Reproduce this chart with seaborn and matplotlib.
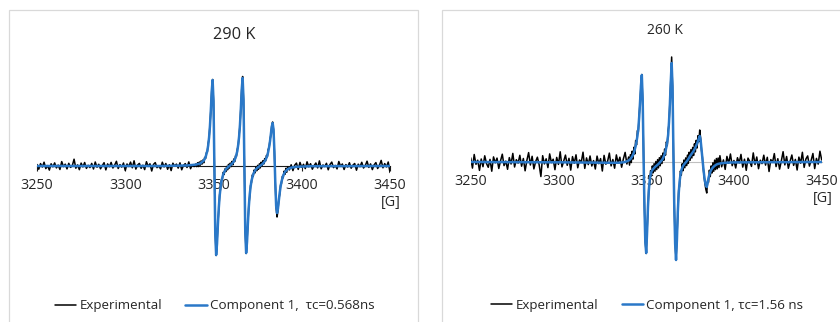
import numpy as np
import matplotlib
matplotlib.use("Agg")
import matplotlib.pyplot as plt
from matplotlib.patches import Rectangle
import seaborn as sns

# ---------------------------------------------------------------- data
# Magnetic field sweep (G): 1 G steps on the baseline, 0.5 G steps across the lines
field = np.concatenate([
    np.arange(3250, 3340.5, 1.0),
    np.arange(3340.5, 3392.25, 0.5),
    np.arange(3393, 3450.5, 1.0),
])

# Experimental spectrum, 290 K (arbitrary units)
exp_290 = [
    # 3250 - 3340
    1.5, -3.2, 2.4, -1.0, 3.8, -2.6, 0.4, -4.1, 2.2, -0.8,
    3.1, -1.9, 0.9, -3.5, 4.4, -0.6, 1.8, -2.9, 2.7, -1.4,
    0.3, 6.8, -2.2, 1.1, -3.7, 2.9, -0.9, 3.5, -2.4, 0.7,
    -1.6, 2.6, -3.0, 4.0, -1.2, 1.7, -2.8, 0.5, 3.3, -3.9,
    2.1, -0.7, 3.6, -2.0, 0.9, 4.7, -2.5, 1.4, -1.1, 3.0,
    -4.4, 2.0, -0.5, 3.9, -1.8, 5.2, -3.1, 1.0, 2.6, -2.3,
    0.8, -3.6, 4.3, -0.4, 2.2, -5.0, 1.6, 3.4, -1.7, 0.2,
    -2.9, 3.8, -0.9, 2.5, -3.3, 1.3, -4.6, 2.8, -0.2, 1.9,
    -2.1, 3.2, -3.8, 0.6, 2.4, -1.5, 4.1, -2.7, 1.2, -0.6,
    2.0,
    # 3340.5 - 3392
    -0.6, 3.3, -0.5, 4.0, 0.8, 5.1, 1.9, 6.0, 3.2, 8.6, 7.5, 13.4, 14.0, 22.5, 28.0, 41.0, 56.0, 75.0, 86.5,
    65, 0.5, -67, -89.5, -77, -58, -42.5, -28.4, -23.0, -13.8, -13.2, -6.4, -8.5, -2.9, -5.6, -0.4, -3.8, 1.6, -2.1, 2.9,
    -0.6, 4.6, 1.2, 7.0, 4.4, 10.3, 9.7, 16.8, 20.4, 30.5, 40.6, 58, 76.8, 89.5, 66, -0.5, -66, -87.5, -75, -57.5,
    -39.6, -30.8, -19.4, -16.7, -9.0, -10.4, -4.1, -6.9, -1.2, -4.8, 0.6, -3.3, 2.2, -1.9, 3.8, 0.2, 5.3, 2.0, 7.4, 4.9,
    10.6, 9.2, 16.8, 18.0, 26.2, 31.0, 40.0, 44.0, 36, 14, -17, -42, -51, -45, -33.5, -28.6, -18.9, -17.6, -10.5, -11.8,
    -5.2, -8.3, -2.4, -6.3, -0.9,
    # 3393 - 3450
    -3.9, 1.2, -4.6, 0.8, 2.9, -3.4, 3.6, -1.3, 1.7, -2.6,
    4.2, -0.8, 2.3, -3.2, 0.4, 3.0, -1.9, 5.1, -2.8, 1.0,
    -0.5, 2.7, -3.8, 1.5, 3.9, -1.6, 0.6, -2.9, 4.5, -0.3,
    2.0, -3.5, 1.4, -1.0, 3.3, -2.2, 0.9, 2.5, -4.2, 1.8,
    -0.7, 3.7, -2.0, 0.5, 4.8, -1.4, 2.1, -3.6, 1.1, 3.4,
    -2.5, 0.7, 5.6, -1.8, 2.4, -0.9, 4.0, -6.5,
]

# Experimental spectrum, 260 K (arbitrary units)
exp_260 = [
    # 3250 - 3340
    4.2, -6.1, 7.5, -2.3, 1.8, -8.4, 3.0, -4.7, 6.2, -1.5,
    -5.3, 2.6, -9.2, 5.1, -0.8, 3.9, -6.5, 1.2, 7.8, -3.6,
    0.9, -7.3, 4.4, -2.0, 8.6, -5.0, 2.3, -1.1, 6.7, -4.2,
    3.5, -8.8, 1.6, 9.4, -3.0, 5.7, -6.9, 0.4, 4.8, -2.7,
    -14.5, 6.3, -1.9, 3.2, -5.6, 8.1, -0.6, 2.8, -7.7, 4.6,
    -2.4, 10.2, -4.9, 1.0, 6.9, -3.3, 3.7, -8.1, 5.4, -1.2,
    7.2, -5.8, 2.0, -0.3, 9.8, -6.4, 4.1, -2.6, 6.0, -4.0,
    1.4, -7.0, 5.9, -1.7, 3.4, -9.0, 6.6, -2.2, 0.7, 8.9,
    -3.9, 2.5, -6.2, 7.1, -1.0, 4.8, -5.2, 3.1, 9.6, -2.0,
    5.0,
    # 3340.5 - 3392
    -3.1, 7.4, -0.6, 10.8, 2.9, 14.7, 8.0, 21.5, 17.2, 31.4, 30.0, 47, 60, 76, 87.5, 61, 6, -44, -80,
    -91.5, -69, -47, -25, -22.5, -8.6, -14.0, -3.9, -10.8, -1.7, -9.2, 0.5, -7.6, 2.4, -5.9, 4.3, -3.8, 6.2, -1.5, 8.9,
    1.6, 13.0, 6.8, 20.1, 16.3, 31.5, 38, 59, 82, 105, 76, 11, -44, -81, -98, -76, -54, -28, -24.5, -9.0,
    -13.2, -1.8, -8.7, 2.0, -5.8, 4.1, -3.6, 6.9, -1.4, 9.8, 1.7, 12.4, 4.0, 14.6, 6.5, 18.2, 10.1, 21.7, 14.0, 26.3,
    20.2, 32, 24, 12, 5, -6, -15, -22, -27.5, -31, -19, -20.4, -8.2, -14.6, -3.9, -11.0, -0.8, -9.3, 1.9, -7.6,
    3.5, -6.8, 4.0, -5.5, 6.3,
    # 3393 - 3450
    -4.8, 2.1, -7.4, 5.6, -1.3, 8.0, -3.7, 1.5, -6.0, 4.3,
    -0.9, 7.6, -5.1, 2.8, -8.3, 3.9, 0.6, -4.4, 9.1, -2.5,
    5.0, -6.7, 1.8, -1.6, 6.8, -3.1, 4.7, -9.5, 2.4, -0.2,
    8.4, -4.6, 3.3, -7.1, 1.1, 10.3, -2.9, 5.5, -6.3, 0.8,
    7.0, -3.4, 2.6, -8.0, 4.9, -1.2, 9.7, -5.4, 3.0, 6.1,
    -4.1, 1.7, 8.5, -6.6, 3.6, -2.1, 10.8, 2.0,
]

# Simulated component, 290 K
fit_field_290 = [
    3250, 3320, 3335, 3340, 3342.5, 3344.5, 3345.5, 3346.5, 3347, 3347.5,
    3348, 3348.5, 3349, 3349.5, 3350, 3350.5, 3351, 3351.5, 3352, 3352.5,
    3353, 3353.5, 3354, 3354.5, 3355.5, 3356.5, 3357.5, 3358.5, 3359.5, 3360.5,
    3361.5, 3362.5, 3363.5, 3364, 3364.5, 3365, 3365.5, 3366, 3366.5, 3367,
    3367.5, 3368, 3368.5, 3369, 3369.5, 3370, 3370.5, 3371, 3371.5, 3372.5,
    3373.5, 3374.5, 3375.5, 3376.5, 3377.5, 3378.5, 3379.5, 3380.5, 3381, 3381.5,
    3382, 3382.5, 3383, 3383.5, 3384, 3384.5, 3385, 3385.5, 3386, 3386.5,
    3387, 3387.5, 3388, 3388.5, 3389.5, 3390.5, 3392, 3394, 3397, 3405,
    3450,
]
fit_290 = [
    0, 0, 0.5, 1.4, 2.5, 5.4, 8.8, 15.2, 20.7, 28.6,
    40.2, 56.2, 74.9, 86, 65.1, 0, -67.4, -89, -77.5, -58.1,
    -41.7, -29.6, -21.5, -15.2, -8.3, -4.6, -2.3, -0.7, 0.7, 2.3,
    4.5, 8.2, 15.0, 21.2, 29.3, 41.2, 57.5, 76.6, 88, 66.6,
    0, -65.9, -87, -75.8, -56.8, -40.7, -29, -21, -14.9, -8.2,
    -4.6, -2.4, -1.0, 0.4, 1.6, 3.4, 6.1, 10.4, 14.3, 18.9,
    24.5, 31.8, 39.2, 43, 36.6, 14.9, -16.3, -40.0, -47, -42.8,
    -34.7, -26.9, -20.7, -15.7, -9.4, -5.9, -3.2, -1.6, -0.8, -0.2,
    0,
]

# Simulated component, 260 K
fit_field_260 = np.concatenate([
    [3250, 3300, 3320, 3330, 3335, 3338, 3339],
    np.arange(3340, 3392.25, 0.5),
    [3395, 3400, 3420, 3450],
])
fit_260 = [
    0, -0.3, -0.6, -0.8, -0.7, 0, 0.7,
    1.5, 2.2, 3.0, 4.2, 5.5, 7.3, 9.5, 12.5, 16, 20.5,
    26, 33, 45, 60, 76, 87, 62, 5, -45, -80,
    -91, -70, -45, -28, -18, -12.5, -9.5, -8, -7, -6,
    -5, -4.2, -3.5, -2.7, -2, -1, 0, 1, 2, 3.5,
    5.5, 8, 11, 15, 20, 27, 40, 58, 80, 99,
    75, 10, -45, -82, -98, -78, -50, -32, -20, -13,
    -8.5, -6, -4, -2.7, -1.5, -0.5, 0.5, 1.7, 3, 4.5,
    6, 7.2, 8.5, 9.7, 11, 12.7, 14.5, 16.5, 18.5, 21,
    23.5, 26, 22, 13, 4, -5, -13, -19.5, -23.5, -25,
    -21, -16, -12.5, -10, -8, -6.7, -5.5, -4.6, -3.8, -3.2,
    -2.6, -2.2, -1.9, -1.7, -1.5,
    -0.8, -0.4, -0.2, 0,
]

field_ticks = [3250, 3300, 3350, 3400, 3450]
titles = ["290 K", "260 K"]
labels_290 = ["Experimental", "Component 1,  \u03c4c=0.568ns"]
labels_260 = ["Experimental", "Component 1, \u03c4c=1.56 ns"]

# ---------------------------------------------------------------- style
sns.set_theme(style="white")
plt.rcParams["font.family"] = ["Open Sans", "DejaVu Sans"]

W, H = 840, 322
BLUE = "#2A78C8"
TEXT = "#262626"

fig = plt.figure(figsize=(W / 100, H / 100), dpi=100)

# chart-area frames
fig.add_artist(Rectangle((8.5 / W, -0.05), (417.5 - 8.5) / W, 1.05 - 9.5 / H,
                         transform=fig.transFigure, fill=False,
                         edgecolor="#d9d9d9", lw=0.9))
fig.add_artist(Rectangle((441.5 / W, -0.05), 0.5, 1.05 - 9.5 / H,
                         transform=fig.transFigure, fill=False,
                         edgecolor="#d9d9d9", lw=0.9))

ax1 = fig.add_axes([37 / W, 47 / H, 353 / W, 225 / H])
ax2 = fig.add_axes([470.7 / W, 47 / H, 351 / W, 230 / H])


def draw_panel(ax, exp, fx, fy, labels, axis_color, ylim, tick_len, pad):
    sns.lineplot(x=field, y=exp, ax=ax, color="black", lw=1.1,
                 label=labels[0], sort=False, estimator=None)
    sns.lineplot(x=fx, y=fy, ax=ax, color=BLUE, lw=1.8,
                 label=labels[1], sort=False, estimator=None)
    ax.set_xlim(3250, 3450)
    ax.set_ylim(*ylim)
    for side in ("top", "right", "left"):
        ax.spines[side].set_visible(False)
    sp = ax.spines["bottom"]
    sp.set_position(("data", 0))
    sp.set_color(axis_color)
    sp.set_linewidth(0.8)
    sp.set_zorder(1)
    ax.set_yticks([])
    ax.set_xticks(field_ticks)
    ax.set_xticklabels([str(t) for t in field_ticks])
    ax.tick_params(axis="x", bottom=True, length=tick_len, width=0.8,
                   color=axis_color, pad=pad, labelsize=10.3, labelcolor=TEXT)
    ax.set_xlabel("")
    ax.set_ylabel("")
    ax.annotate("[G]", xy=(3450, 0), xytext=(1, -36.5), textcoords="offset pixels",
                ha="center", va="center", fontsize=10.3, color=TEXT)
    handles, labs = ax.get_legend_handles_labels()
    ax.get_legend().remove()
    return handles, labs


h1, l1 = draw_panel(ax1, exp_290, fit_field_290, fit_290, labels_290,
                    "#1a1a1a", (-109, 116), 3.6, 5.2)
h2, l2 = draw_panel(ax2, exp_260, fit_field_260, fit_260, labels_260,
                    "#c0c0c0", (-113, 117), 0, 8.8)

fig.text(234.7 / W, 1 - 35 / H, titles[0], ha="center", va="center",
         fontsize=11.8, color=TEXT)
fig.text(665 / W, 1 - 30 / H, titles[1], ha="center", va="center",
         fontsize=10, color=TEXT)

legend_kw = dict(loc="center", ncol=2, frameon=False, fontsize=9.6,
                 handlelength=1.6, handletextpad=0.25, columnspacing=1.75,
                 labelcolor=TEXT)
fig.legend(h1, l1, bbox_to_anchor=(214.7 / W, 1 - 305.7 / H), **legend_kw)
fig.legend(h2, l2, bbox_to_anchor=(647.3 / W, 1 - 305 / H), **legend_kw)

fig.savefig("out.png", dpi=100)
